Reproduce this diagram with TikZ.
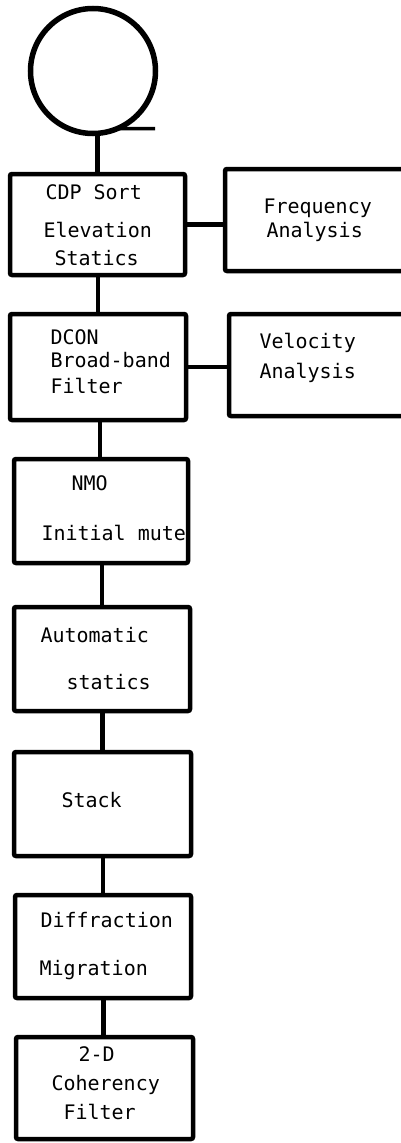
\documentclass[tikz,border=0pt]{standalone}
\usepackage{fontspec}
\newfontfamily\typewriter{DejaVu Sans Mono}
\begin{document}
\begin{tikzpicture}[x=1pt,y=-1pt,
  box/.style={draw=black,line width=4.5pt,rounded corners=2pt,inner sep=0pt,outer sep=0pt},
  conn/.style={draw=black,line width=4.5pt},
  txt/.style={anchor=base west,inner sep=0pt,outer sep=0pt,font=\typewriter\fontsize{20}{24}\selectfont}]
\useasboundingbox (0,0) rectangle (401,1143);
\clip (0,0) rectangle (401,1143);
\fill[white] (0,0) rectangle (401,1143);
% tape symbol
\node[draw=black,line width=5.5pt,circle,minimum size=125pt,inner sep=0pt,outer sep=0pt] (tape) at (93,71) {};
\coordinate (tailend) at (155,128.5);
\draw[line width=3.5pt] (tape.-67) -- (tailend);
% boxes
\node[box,minimum width=175pt,minimum height=101pt] (b1) at (97.5,224.5) {};
\node[box,minimum width=205pt,minimum height=102pt] (freq) at (327.5,220) {};
\node[box,minimum width=176pt,minimum height=106pt] (b2) at (98,367) {};
\node[box,minimum width=201pt,minimum height=102pt] (vel) at (329.5,365) {};
\node[box,minimum width=174pt,minimum height=104pt] (b3) at (101,511) {};
\node[box,minimum width=176pt,minimum height=104pt] (b4) at (102,659) {};
\node[box,minimum width=177pt,minimum height=104pt] (b5) at (102.5,804) {};
\node[box,minimum width=176pt,minimum height=103pt] (b6) at (103,946.5) {};
\node[box,minimum width=177pt,minimum height=102pt] (b7) at (104.5,1088) {};
% texts
\node[txt] (t1a) at (45.5,199) {CDP Sort};
\node[txt] (t1b) at (43.5,237) {Elevation};
\node[txt] (t1c) at (54.5,265) {Statics};
\node[txt] (tfa) at (263.5,213) {Frequency};
\node[txt] (tfb) at (266.5,237) {Analysis};
\node[txt] (t2a) at (50.5,344) {DCON};
\node[txt] (t2b) at (50.5,367) {Broad-band};
\node[txt] (t2c) at (50.5,393) {Filter};
\node[txt] (tva) at (259.5,348) {Velocity};
\node[txt] (tvb) at (259.5,378) {Analysis};
\node[txt] (t3a) at (71.5,490) {NMO};
\node[txt] (t3b) at (41.5,540) {Initial mute};
\node[txt] (t4a) at (40.5,642) {Automatic};
\node[txt] (t4b) at (66.5,689) {statics};
\node[txt] (t5a) at (61.5,807) {Stack};
\node[txt] (t6a) at (40.5,927) {Diffraction};
\node[txt] (t6b) at (39.5,975) {Migration};
\node[txt] (t7a) at (78.5,1061) {2-D};
\node[txt] (t7b) at (51.5,1090) {Coherency};
\node[txt] (t7c) at (63.5,1119) {Filter};
% connectors
\draw[conn] (b1.north) -- (b1.north |- tape.south);
\draw[conn] (b1.east) -- (freq.west |- b1.east);
\draw[conn] (b2.north) -- (b2.north |- b1.south);
\draw[conn] (b2.east) -- (vel.west |- b2.east);
\draw[conn] (b3.north) ++(-1,0) -- ([xshift=-1pt]b3.north |- b2.south);
\draw[conn] (b4.north) -- (b4.north |- b3.south);
\draw[conn] (b5.north) -- (b5.north |- b4.south);
\draw[conn] (b6.north) -- (b6.north |- b5.south);
\draw[conn] (b7.north) ++(-1,0) -- ([xshift=-1pt]b7.north |- b6.south);
\end{tikzpicture}
\end{document}
